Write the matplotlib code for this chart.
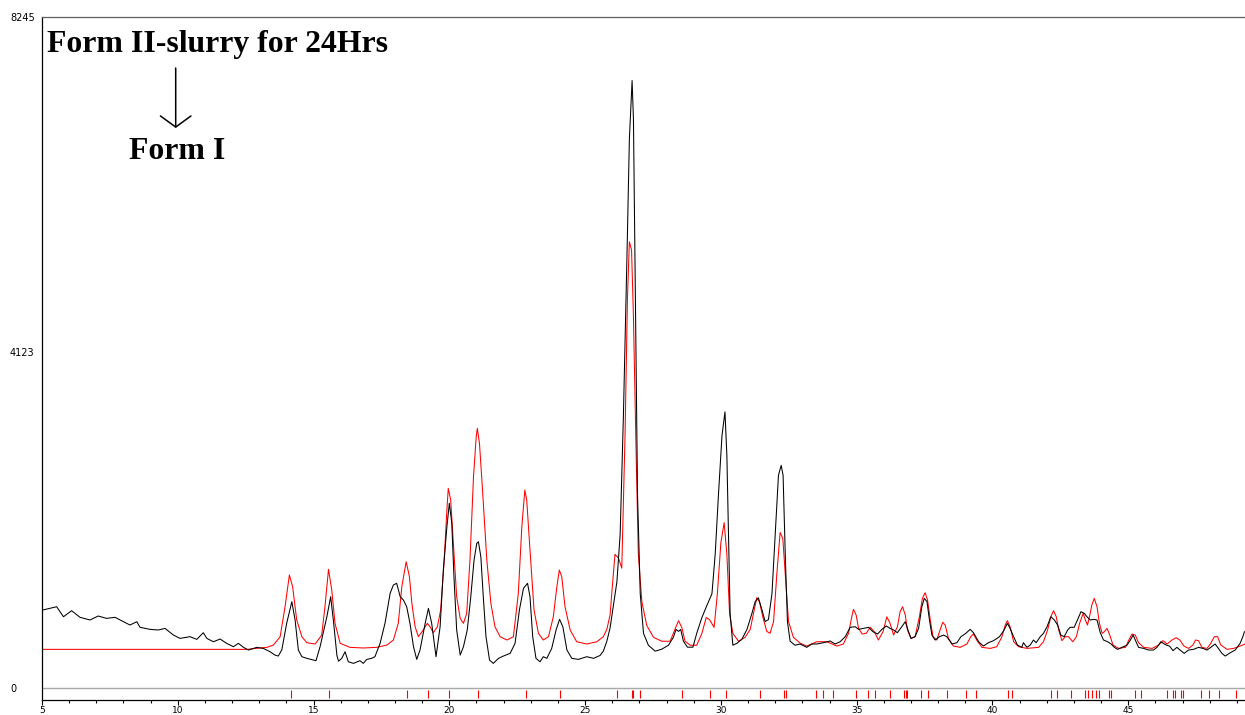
import matplotlib
matplotlib.use('Agg')
import matplotlib.pyplot as plt
from matplotlib.ticker import MultipleLocator

meas_2theta = [5.02, 5.54, 5.79, 6.09, 6.40, 6.77, 7.07, 7.38, 7.69, 8.00, 8.24, 8.49, 8.61, 8.98,
               9.28, 9.53, 9.84, 10.08, 10.45, 10.70, 10.94, 11.07, 11.31, 11.56, 11.80, 12.05, 12.23,
               12.42, 12.60, 12.91, 13.15, 13.40, 13.58, 13.70, 13.83, 14.01, 14.20, 14.32, 14.44,
               14.57, 14.75, 15.09, 15.24, 15.49, 15.63, 15.74, 15.86, 15.92, 16.04, 16.16, 16.28,
               16.47, 16.71, 16.83, 16.96, 17.14, 17.26, 17.45, 17.63, 17.82, 17.94, 18.06, 18.19,
               18.31, 18.43, 18.55, 18.68, 18.80, 18.92, 19.11, 19.23, 19.35, 19.51, 19.66, 19.78,
               19.91, 20.00, 20.09, 20.17, 20.27, 20.40, 20.52, 20.66, 20.79, 20.91, 21.01, 21.07,
               21.16, 21.25, 21.35, 21.48, 21.62, 21.81, 21.99, 22.24, 22.42, 22.58, 22.73, 22.88,
               22.97, 23.07, 23.19, 23.34, 23.46, 23.59, 23.77, 23.93, 24.06, 24.18, 24.33, 24.51,
               24.75, 25.06, 25.31, 25.55, 25.67, 25.80, 25.92, 26.04, 26.17, 26.29, 26.41, 26.54,
               26.63, 26.73, 26.78, 26.85, 26.93, 27.03, 27.15, 27.33, 27.58, 27.82, 28.07, 28.25,
               28.35, 28.44, 28.52, 28.62, 28.77, 28.97, 29.11, 29.30, 29.48, 29.67, 29.79, 29.91,
               30.04, 30.15, 30.22, 30.28, 30.34, 30.44, 30.59, 30.77, 30.96, 31.14, 31.26, 31.38,
               31.51, 31.63, 31.75, 31.88, 32.00, 32.12, 32.22, 32.29, 32.37, 32.45, 32.55, 32.73,
               32.92, 33.16, 33.35, 33.53, 33.78, 34.02, 34.21, 34.39, 34.58, 34.76, 34.95, 35.07,
               35.25, 35.44, 35.60, 35.77, 35.93, 36.09, 36.23, 36.36, 36.50, 36.66, 36.79, 36.87,
               37.00, 37.15, 37.28, 37.40, 37.49, 37.59, 37.68, 37.77, 37.89, 38.05, 38.20, 38.32,
               38.51, 38.69, 38.84, 39.02, 39.18, 39.30, 39.49, 39.67, 39.85, 40.04, 40.26, 40.43,
               40.55, 40.65, 40.78, 40.92, 41.08, 41.14, 41.27, 41.39, 41.51, 41.61, 41.76, 41.88,
               42.01, 42.15, 42.28, 42.40, 42.52, 42.64, 42.77, 42.86, 43.01, 43.13, 43.26, 43.38,
               43.48, 43.60, 43.72, 43.85, 43.97, 44.09, 44.24, 44.37, 44.49, 44.61, 44.77, 44.96,
               45.08, 45.18, 45.27, 45.38, 45.57, 45.75, 45.93, 46.06, 46.20, 46.33, 46.43, 46.52,
               46.65, 46.79, 46.91, 47.06, 47.22, 47.40, 47.59, 47.75, 47.90, 48.04, 48.20, 48.32,
               48.45, 48.57, 48.76, 48.94, 49.12, 49.22, 49.28]
meas_counts = [958, 999, 876, 950, 869, 836, 885, 856, 869, 815, 774, 815, 746, 721,
               713, 733, 651, 610, 631, 598, 680, 610, 569, 602, 549, 508, 549,
               500, 467, 500, 487, 446, 405, 393, 467, 795, 1061, 836, 467,
               385, 365, 336, 508, 876, 1122, 800, 400, 330, 365, 446, 323,
               303, 336, 303, 352, 365, 385, 549, 795, 1164, 1266, 1287, 1122,
               1081, 999, 795, 508, 352, 467, 795, 979, 795, 385, 753, 1450,
               1982, 2270, 2024, 1368, 713, 405, 508, 713, 1122, 1573, 1778, 1798,
               1614, 1122, 631, 344, 303, 365, 393, 426, 549, 958, 1225, 1287,
               1122, 631, 365, 323, 385, 365, 487, 713, 844, 753, 467, 365,
               352, 385, 365, 400, 453, 575, 740, 1011, 1303, 1886, 3344, 5288,
               6745, 7464, 6988, 4802, 2372, 1158, 672, 526, 453, 477, 526, 623,
               720, 696, 720, 575, 502, 502, 672, 866, 1011, 1158, 1643, 2372,
               3101, 3393, 2858, 1886, 914, 526, 550, 598, 720, 914, 1060, 1109,
               963, 817, 841, 1158, 1886, 2615, 2736, 2615, 1643, 817, 575, 526,
               541, 500, 541, 541, 557, 578, 541, 569, 631, 746, 753, 721,
               733, 746, 692, 664, 721, 762, 733, 713, 680, 753, 815, 733,
               610, 631, 733, 999, 1102, 1061, 836, 651, 590, 631, 651, 631,
               541, 557, 631, 672, 721, 680, 569, 516, 557, 582, 631, 713,
               795, 733, 631, 528, 500, 557, 500, 528, 590, 557, 631, 672,
               753, 876, 836, 774, 651, 631, 713, 746, 746, 836, 938, 918,
               876, 836, 844, 836, 680, 590, 569, 541, 500, 475, 500, 528,
               590, 651, 582, 500, 487, 467, 467, 500, 569, 541, 524, 516,
               459, 500, 467, 426, 467, 475, 500, 487, 467, 500, 541, 487,
               426, 393, 434, 467, 549, 631, 692]

# calculated pattern (red)
calc_2theta = [5.00, 12.54, 13.28, 13.52, 13.77, 13.95, 14.11, 14.23, 14.38, 14.57, 14.75, 15.06,
               15.30, 15.42, 15.55, 15.67, 15.79, 15.98, 16.34, 16.83, 17.33, 17.70, 17.94, 18.12,
               18.25, 18.41, 18.53, 18.62, 18.74, 18.86, 19.04, 19.19, 19.29, 19.41, 19.56, 19.68,
               19.81, 19.91, 19.96, 20.05, 20.15, 20.27, 20.40, 20.52, 20.64, 20.76, 20.89, 20.99,
               21.03, 21.11, 21.23, 21.38, 21.53, 21.68, 21.87, 22.12, 22.36, 22.54, 22.67, 22.78,
               22.85, 22.97, 23.12, 23.28, 23.46, 23.65, 23.83, 23.96, 24.05, 24.14, 24.26, 24.45,
               24.69, 25.06, 25.43, 25.67, 25.80, 25.92, 25.98, 26.10, 26.23, 26.35, 26.47, 26.56,
               26.63, 26.71, 26.78, 26.88, 26.96, 27.09, 27.27, 27.52, 27.82, 28.13, 28.31, 28.44,
               28.56, 28.68, 28.87, 29.11, 29.30, 29.46, 29.58, 29.75, 29.87, 30.00, 30.12, 30.22,
               30.32, 30.44, 30.65, 30.89, 31.08, 31.20, 31.32, 31.42, 31.55, 31.69, 31.81, 31.94,
               32.06, 32.18, 32.28, 32.37, 32.49, 32.67, 32.92, 33.16, 33.53, 33.90, 34.27, 34.51,
               34.70, 34.82, 34.88, 34.98, 35.07, 35.20, 35.35, 35.50, 35.65, 35.80, 35.97, 36.11,
               36.23, 36.36, 36.50, 36.60, 36.69, 36.79, 36.87, 37.00, 37.15, 37.31, 37.42, 37.52,
               37.61, 37.71, 37.81, 37.95, 38.07, 38.17, 38.26, 38.38, 38.56, 38.81, 39.06, 39.20,
               39.30, 39.42, 39.61, 39.92, 40.16, 40.35, 40.47, 40.55, 40.65, 40.78, 40.96, 41.27,
               41.70, 41.88, 42.03, 42.15, 42.25, 42.35, 42.44, 42.56, 42.68, 42.80, 42.96, 43.09,
               43.21, 43.34, 43.42, 43.50, 43.60, 43.66, 43.75, 43.85, 43.94, 44.04, 44.12, 44.22,
               44.32, 44.44, 44.65, 44.90, 45.02, 45.14, 45.26, 45.38, 45.57, 45.88, 46.12, 46.28,
               46.43, 46.61, 46.77, 46.90, 47.05, 47.22, 47.38, 47.48, 47.59, 47.71, 47.90, 48.04,
               48.17, 48.29, 48.41, 48.64, 48.88, 49.12, 49.30]
calc_counts = [475, 475, 500, 528, 631, 999, 1389, 1245, 836, 631, 557, 541,
               651, 999, 1459, 1204, 795, 549, 500, 492, 500, 528, 590, 795,
               1245, 1552, 1368, 1041, 753, 631, 713, 795, 753, 680, 753, 958,
               1573, 2187, 2454, 2310, 1778, 1122, 856, 795, 918, 1573, 2597, 3088,
               3191, 3007, 2392, 1573, 1041, 753, 631, 590, 631, 1164, 1982, 2433,
               2310, 1696, 958, 672, 590, 631, 876, 1245, 1450, 1368, 999, 713,
               569, 541, 569, 631, 720, 900, 1158, 1643, 1595, 1473, 3101, 4802,
               5482, 5384, 4559, 2858, 1643, 1060, 769, 623, 575, 575, 720, 827,
               745, 575, 526, 526, 672, 866, 841, 745, 1158, 1789, 2032, 1643,
               914, 672, 575, 623, 720, 914, 1109, 1060, 866, 696, 672, 817,
               1401, 1911, 1838, 1401, 817, 623, 551, 516, 569, 569, 516, 541,
               672, 876, 967, 897, 733, 664, 672, 746, 692, 590, 692, 876,
               795, 651, 753, 938, 999, 897, 713, 610, 631, 876, 1102, 1171,
               1081, 836, 631, 590, 713, 807, 774, 610, 516, 500, 541, 631,
               664, 590, 500, 487, 508, 631, 774, 827, 753, 569, 508, 487,
               500, 569, 713, 876, 950, 876, 713, 582, 631, 631, 569, 631,
               795, 918, 836, 774, 918, 1020, 1102, 999, 795, 672, 692, 733,
               651, 528, 487, 500, 590, 664, 651, 557, 500, 487, 528, 582,
               541, 590, 618, 590, 516, 487, 528, 590, 582, 500, 487, 549,
               631, 631, 528, 475, 487, 516, 541]

# reflection positions (red ticks under the baseline)
refl_2theta = [14.16, 15.57, 18.43, 19.22, 20.00, 21.06, 22.83, 24.09, 26.17, 26.71, 26.77,
               27.03, 28.56, 29.59, 30.20, 31.43, 32.33, 32.40, 33.49, 33.77, 34.12, 34.99,
               35.40, 35.67, 36.22, 36.76, 36.81, 36.86, 37.37, 37.64, 38.33, 39.04, 39.40,
               40.58, 40.73, 42.17, 42.37, 42.88, 43.40, 43.52, 43.65, 43.80, 43.93, 44.30,
               44.37, 45.26, 45.48, 46.43, 46.65, 46.73, 46.93, 47.01, 47.68, 47.96, 48.36,
               48.96]

y_ticks = [0, 4123, 8245]
x_major = [5, 10, 15, 20, 25, 30, 35, 40, 45]

W, H = 1245, 715
fig = plt.figure(figsize=(W / 100, H / 100), dpi=100)
ax = fig.add_axes([42 / W, 15 / H, (W - 42) / W, (700 - 17) / H])

ax.axhline(0, color='#a8a8a8', lw=1.0, zorder=1)
ax.plot(calc_2theta, calc_counts, color='#ff0000', lw=0.75, zorder=2)
ax.plot(meas_2theta, meas_counts, color='#000000', lw=0.75, zorder=3)
ax.vlines(refl_2theta, -125, -25, color='#ff0000', lw=0.8)

ax.set_xlim(5, 49.3)
ax.set_ylim(-147, 8245)

ax.set_xticks(x_major)
ax.xaxis.set_minor_locator(MultipleLocator(1))
ax.tick_params(axis='x', which='major', length=3.5, width=0.8, labelsize=6.5, pad=1)
ax.tick_params(axis='x', which='minor', length=2.2, width=0.8)

ax.set_yticks(y_ticks)
ax.set_yticklabels([str(v) for v in y_ticks])
ax.tick_params(axis='y', length=0, labelsize=7, pad=23)
for lbl in ax.get_yticklabels():
    lbl.set_horizontalalignment('left')

ax.spines['right'].set_visible(False)
ax.spines['top'].set_color('#606060')
for s in ['left', 'bottom', 'top']:
    ax.spines[s].set_linewidth(0.9)

fig.text(47 / W, 1 - 52 / H, 'Form II-slurry for 24Hrs', family='Liberation Serif',
         weight='bold', fontsize=22.9, va='baseline', ha='left')
fig.text(129 / W, 1 - 159 / H, 'Form I', family='Liberation Serif',
         weight='bold', fontsize=22.9, va='baseline', ha='left')
ax.annotate('', xy=(175.7 / W, 1 - 128 / H), xytext=(175.7 / W, 1 - 68 / H),
            xycoords='figure fraction', textcoords='figure fraction',
            arrowprops=dict(arrowstyle='->,head_length=0.8,head_width=1.1',
                            color='black', lw=1.1, shrinkA=0, shrinkB=0))

fig.savefig('out.png', dpi=100)
